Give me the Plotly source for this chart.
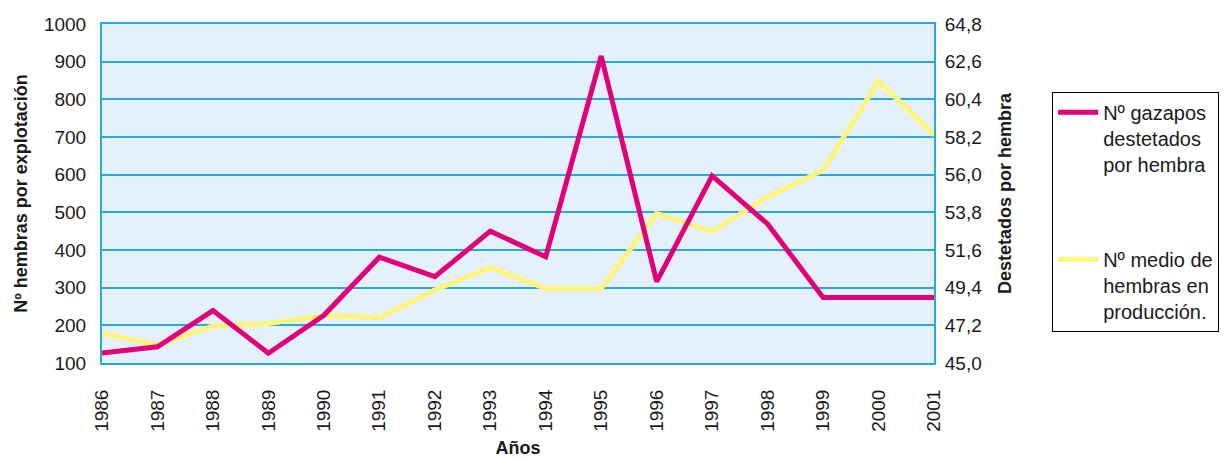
import plotly.graph_objects as go

years = list(range(1986, 2002))
gazapos_por_hembra = [45.59, 45.95, 48.06, 45.57, 47.79, 51.18, 50.04, 52.70,
                      51.20, 62.93, 49.75, 55.93, 53.12, 48.83, 48.83, 48.83]
hembras_produccion = [179, 148, 198, 205, 226, 220, 294, 354,
                      298, 298, 497, 449, 541, 612, 849, 705]

left_ticks = [100, 200, 300, 400, 500, 600, 700, 800, 900, 1000]
right_ticks = [45.0, 47.2, 49.4, 51.6, 53.8, 56.0, 58.2, 60.4, 62.6, 64.8]
right_text = ["45,0", "47,2", "49,4", "51,6", "53,8", "56,0", "58,2", "60,4", "62,6", "64,8"]

FONT = "Liberation Sans, Arial, sans-serif"
GRID = "#27A9E1"

fig = go.Figure()
fig.add_trace(go.Scatter(
    x=years, y=gazapos_por_hembra, yaxis="y2", mode="lines",
    name="Nº gazapos<br>destetados<br>por hembra", legendgroup="a",
    line=dict(color="#E2007A", width=5)))
fig.add_trace(go.Scatter(
    x=years, y=hembras_produccion, yaxis="y", mode="lines",
    name="Nº medio de<br>hembras en<br>producción.", legendgroup="b",
    line=dict(color="#FFF57D", width=5)))

fig.update_layout(
    width=1232, height=458,
    margin=dict(l=94, r=306, t=16, b=103, autoexpand=False),
    paper_bgcolor="white", plot_bgcolor="#E4F1FA",
    font=dict(family=FONT, size=19, color="#1a1a1a"),
    xaxis=dict(
        range=[1986, 2001], tickvals=years, ticktext=[str(y) for y in years],
        tickangle=-90, showgrid=False, zeroline=False, automargin=False,
        showline=True, linecolor=GRID, linewidth=2, mirror=True,
        ticks="outside", ticklen=17, tickcolor="rgba(0,0,0,0)",
        title=dict(text="<b>Años</b>", font=dict(family=FONT, size=18), standoff=11),
    ),
    yaxis=dict(
        range=[100, 1000], tickvals=left_ticks, showgrid=True, automargin=False,
        gridcolor=GRID, gridwidth=2, zeroline=False,
        showline=True, linecolor=GRID, linewidth=2, mirror=True,
        ticks="outside", ticklen=10, tickcolor="rgba(0,0,0,0)",
        title=dict(text="<b>Nº hembras por explotación</b>", font=dict(family=FONT, size=18), standoff=12),
    ),
    yaxis2=dict(
        range=[45.0, 64.8], tickvals=right_ticks, ticktext=right_text,
        overlaying="y", side="right", showgrid=False, zeroline=False, automargin=False,
        ticks="outside", ticklen=6, tickcolor="rgba(0,0,0,0)",
        title=dict(text="<b>Destetados por hembra</b>", font=dict(family=FONT, size=18), standoff=17),
    ),
    legend=dict(
        x=1.142, y=0.80, xanchor="left", yanchor="top",
        bordercolor="black", borderwidth=1, bgcolor="white",
        font=dict(family=FONT, size=20), tracegroupgap=66,
        valign="top", itemwidth=40,
        entrywidth=136, entrywidthmode="pixels",
    ),
    showlegend=True,
)

fig.write_html("out.html")
